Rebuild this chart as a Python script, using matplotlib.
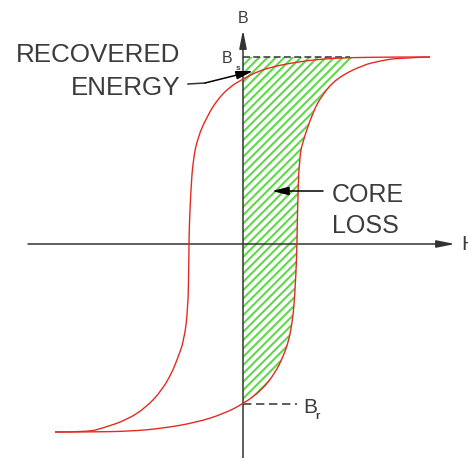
import numpy as np
import matplotlib
matplotlib.use('Agg')
import matplotlib.pyplot as plt
from matplotlib.path import Path
from matplotlib.patches import PathPatch

# hysteresis loop (arbitrary units, origin at axes crossing)
desc_H = [187, 157, 107, 80, 64, 47, 30, 14, 0, -13, -26, -36, -45, -50, -52.3, -53.7,
          -54, -54.3, -55, -58.7, -66, -71.3, -81, -96.3, -116.3, -140, -155, -188]
desc_B = [187, 187, 186.5, 185, 183.3, 180.7, 177.3, 172.3, 165, 157.3, 144, 127.3, 107.3, 84, 51, 17,
          0, -26, -63, -96, -116, -129, -146, -163, -176, -184, -188, -188]

asc_H = [-188, -155, -113, -80, -46, -20, 0, 19, 32, 40, 46, 49, 51, 53, 54,
         54.5, 56.3, 60.3, 70, 79, 94, 120, 137, 154, 187]
asc_B = [-188, -188, -187.3, -184.3, -178.3, -170, -160, -146, -129, -113, -96, -79, -63, -29, 0,
         35, 87.3, 104, 132, 149, 166, 179, 183, 186, 187]

Bs = 187
Br = -160
hatch_top_H = 112
bs_dash_end = 107
br_dash_end = 54

red = '#e32b22'
ink = '#333333'
txt = '#3c3c3c'
green = '#5fd84a'


def smooth_path(xs, ys):
    # quadratic bezier through midpoints, read points act as control points
    pts = list(zip(xs, ys))
    verts = [pts[0]]
    codes = [Path.MOVETO]
    for i in range(1, len(pts) - 1):
        nxt = pts[i + 1] if i == len(pts) - 2 else ((pts[i][0] + pts[i + 1][0]) / 2, (pts[i][1] + pts[i + 1][1]) / 2)
        verts += [pts[i], nxt]
        codes += [Path.CURVE3, Path.CURVE3]
    return Path(verts, codes)


fig = plt.figure(figsize=(4.68, 4.58), dpi=100)
ax = fig.add_axes([0, 0, 1, 1])
ax.set_xlim(-243, 225)
ax.set_ylim(-214, 244)
ax.axis('off')

# hatched core-loss region: B axis -> ascending branch, Br up to Bs
hh = [h for h, b in zip(asc_H, asc_B) if h >= 0 and b <= 166]
hb = [b for h, b in zip(asc_H, asc_B) if h >= 0 and b <= 166]
poly_H = [0] + hh + [hatch_top_H, 0]
poly_B = [Br] + hb + [Bs, Bs]
plt.rcParams['hatch.linewidth'] = 1.5
ax.fill(poly_H, poly_B, facecolor='none', edgecolor=green, hatch='////', linewidth=0, zorder=1)

# axes with arrows
ax.annotate('', xy=(212, 0), xytext=(-215, 0),
            arrowprops=dict(arrowstyle='-|>,head_length=1.1,head_width=0.22', color=ink, lw=1.1,
                            shrinkA=0, shrinkB=0), zorder=3)
ax.annotate('', xy=(0, 214), xytext=(0, -216),
            arrowprops=dict(arrowstyle='-|>,head_length=1.1,head_width=0.22', color=ink, lw=1.1,
                            shrinkA=0, shrinkB=0), zorder=3)

# loop
for hs, bs in [(desc_H, desc_B), (asc_H, asc_B)]:
    ax.add_patch(PathPatch(smooth_path(hs, bs), facecolor='none', edgecolor=red, lw=1.0, zorder=4))

# dashed reference lines
ax.plot([0, bs_dash_end], [Bs, Bs], color=ink, lw=1.1, ls=(0, (4.5, 2.2)), zorder=3)
ax.plot([0, br_dash_end], [Br, Br], color=ink, lw=1.1, ls=(0, (5.5, 3)), zorder=3)

fam = ['Liberation Sans', 'DejaVu Sans']
ax.text(0, 221, 'B', fontsize=11.5, color=txt, ha='center', va='baseline', family=fam)
ax.text(-21, 181, 'B', fontsize=11.5, color=txt, ha='left', va='baseline', family=fam)
ax.text(-7, 174, 's', fontsize=6, color=txt, ha='left', va='baseline', family=fam, weight='bold')
ax.text(60, -169, 'B', fontsize=15, color=txt, ha='left', va='baseline', family=fam)
ax.text(72.5, -175, 'r', fontsize=8, color=txt, ha='left', va='baseline', family=fam, weight='bold')
ax.text(218, 0, 'H', fontsize=15, color=txt, ha='left', va='center', family=fam)

ax.text(-63, 182, 'RECOVERED', fontsize=18.7, color=txt, ha='right', va='baseline', family=fam)
ax.text(-63, 149, 'ENERGY', fontsize=18.7, color=txt, ha='right', va='baseline', family=fam)
ax.text(89, 42, 'CORE', fontsize=18, color=txt, ha='left', va='baseline', family=fam)
ax.text(89, 11, 'LOSS', fontsize=18, color=txt, ha='left', va='baseline', family=fam)

# leader arrows
ax.plot([-55, -38], [160, 161], color=ink, lw=1.1, zorder=5)
ax.annotate('', xy=(10, 173), xytext=(-38, 161),
            arrowprops=dict(arrowstyle='-|>,head_length=1.0,head_width=0.25', color='k', lw=1.1,
                            shrinkA=0, shrinkB=0), zorder=5)
ax.annotate('', xy=(29, 53), xytext=(80, 53),
            arrowprops=dict(arrowstyle='-|>,head_length=1.0,head_width=0.25', color='k', lw=1.1,
                            shrinkA=0, shrinkB=0), zorder=5)

fig.savefig('out.png', dpi=100)
